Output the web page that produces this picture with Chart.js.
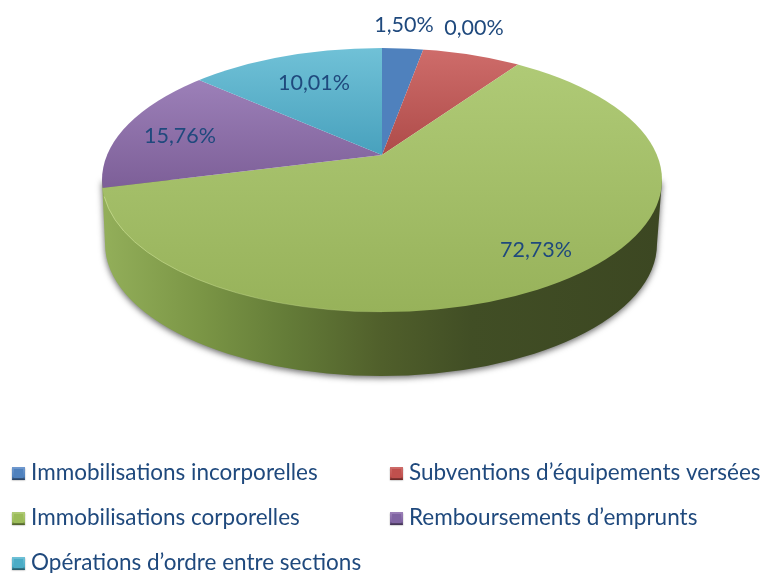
<!DOCTYPE html>
<html lang="fr">
<head>
<meta charset="utf-8">
<title>Répartition</title>
<style>html,body{margin:0;padding:0;background:#fff}canvas{display:block}</style>
<script src="https://cdn.jsdelivr.net/npm/chart.js@4/dist/chart.umd.min.js"></script>
</head>
<body>
<canvas id="c" width="761" height="573"></canvas>
<script>
// Data
const categories = ["Immobilisations incorporelles","Subventions d’équipements versées","Immobilisations corporelles","Remboursements d’emprunts","Opérations d’ordre entre sections"];
// Printed labels (as shown in the picture)
const printedLabels = ["1,50%","0,00%","72,73%","15,76%","10,01%"];
// Slice shares as they are drawn in the picture (read from the slice boundaries)
const drawnShares = [2.9,6.9,61.3,15.3,13.6];

// Style and layout
const topColors    = ["#7199CF","#CE6C6A","#AFCA76","#9C80B8","#70C1D7"];
const bottomColors = ["#4F80B3","#AE4B49","#97B25A","#7D5F98","#48A1BD"];
const gradRange    = [[48,155],[50,155],[65,312],[80,188],[48,155]];
const marker       = ["#4F81BD","#C0504D","#9BBB59","#8064A2","#4BACC6"];
const markerDark   = ["#2C4668","#6E2C2A","#55672F","#463758","#2A6070"];
const labelPos     = [[404,25],[474,28],[536,250],[180,136],[314,83]];
const legendPos    = [[12,480],[390,480],[12,525],[390,525],[12,570]];
const legendOrderIdx = [0,1,2,3,4];
const APEX = {x:382,y:155}, TOP = {x:382,y:180,rx:280,ry:132}, BASE = {x:381,y:244,rx:276,ry:132};
const SQUASH = 0.471, COVER_R = 350;
const TEXT = "#1F497D", FONT = "Lato, 'Noto Sans', sans-serif";

// Page y -> chart-space y for a slice gradient
function viewOf(chart){
  const a = chart.getDatasetMeta(0).data[0];
  const s = COVER_R / a.outerRadius;
  return {cx:a.x, cy:a.y, s:s};
}
function sliceFill(ctx){
  const chart = ctx.chart, i = ctx.dataIndex;
  const meta = chart.getDatasetMeta(0).data[0];
  if (!meta || !meta.outerRadius) return marker[i];
  const v = viewOf(chart);
  const toChart = y => v.cy + (y - APEX.y) / (v.s * SQUASH);
  const g = chart.ctx.createLinearGradient(0,toChart(gradRange[i][0]),0,toChart(gradRange[i][1]));
  g.addColorStop(0,topColors[i]); g.addColorStop(1,bottomColors[i]);
  return g;
}

const pie3d = {
  id:'pie3d',
  beforeDatasetsDraw(chart){
    const c = chart.ctx;
    // side wall
    c.save();
    const g = c.createLinearGradient(TOP.x-TOP.rx,0,TOP.x+TOP.rx,0);
    [[0,"#93AF5A"],[.18,"#7A9545"],[.33,"#647C38"],[.5,"#505F2B"],[.66,"#414E25"],[1,"#3C4722"]].forEach(s=>g.addColorStop(s[0],s[1]));
    c.shadowColor="rgba(40,40,40,.7)"; c.shadowBlur=6; c.shadowOffsetY=2; c.shadowOffsetX=0;
    c.fillStyle=g;
    c.beginPath();
    c.moveTo(TOP.x-TOP.rx,TOP.y);
    c.lineTo(BASE.x-BASE.rx,BASE.y);
    c.ellipse(BASE.x,BASE.y,BASE.rx,BASE.ry,0,Math.PI,0,true);
    c.lineTo(TOP.x+TOP.rx,TOP.y);
    c.closePath();
    c.fill();
    c.restore();
    // top face: clip to the tilted disc, then squash the library's arcs
    const v = viewOf(chart);
    c.save();
    c.beginPath();
    c.ellipse(TOP.x,TOP.y,TOP.rx,TOP.ry,0,0,Math.PI*2);
    c.clip();
    c.translate(APEX.x,APEX.y);
    c.scale(v.s,v.s*SQUASH);
    c.translate(-v.cx,-v.cy);
  },
  afterDatasetsDraw(chart){
    const c = chart.ctx;
    c.restore();
    // light rim on the left front edge
    c.save();
    const r = c.createLinearGradient(TOP.x-TOP.rx,0,TOP.x+60,0);
    r.addColorStop(0,"rgba(205,225,150,.7)"); r.addColorStop(1,"rgba(205,225,150,0)");
    c.strokeStyle=r; c.lineWidth=1;
    c.beginPath();
    c.ellipse(TOP.x,TOP.y,TOP.rx,TOP.ry,0,Math.PI*0.96,Math.PI*0.5,true);
    c.stroke();
    // printed labels
    c.font="21.5px "+FONT; c.fillStyle=TEXT; c.textAlign="center"; c.textBaseline="middle";
    printedLabels.forEach((t,i)=>c.fillText(t,labelPos[i][0],labelPos[i][1]));
    // legend
    c.textAlign="left"; c.textBaseline="alphabetic"; c.font="22.5px "+FONT;
    legendOrderIdx.forEach(i=>{
      const x=legendPos[i][0], b=legendPos[i][1], y=b-13;
      c.shadowColor="rgba(60,60,60,.5)"; c.shadowBlur=1.5; c.shadowOffsetY=.5;
      const m=c.createLinearGradient(0,y,0,y+13);
      m.addColorStop(0,topColors[i]); m.addColorStop(.75,marker[i]); m.addColorStop(1,markerDark[i]);
      c.fillStyle=m; c.fillRect(x,y,13,13);
      c.shadowColor="transparent"; c.shadowBlur=0; c.shadowOffsetY=0;
      c.fillStyle=markerDark[i]; c.fillRect(x+1,y+11.5,11,1.5);
      c.fillStyle=marker[i]; c.fillRect(x+2,y+2,9,9);
      c.fillStyle=TEXT; c.fillText(categories[i],x+19,b);
    });
    c.restore();
  }
};

new Chart(document.getElementById('c'),{
  type:'pie',
  data:{labels:categories,datasets:[{data:drawnShares,backgroundColor:sliceFill,borderWidth:0,hoverOffset:0}]},
  options:{
    responsive:false,animation:false,
    layout:{padding:0},
    plugins:{legend:{display:false},tooltip:{enabled:false},title:{display:false}}
  },
  plugins:[pie3d]
});
</script>
</body>
</html>
